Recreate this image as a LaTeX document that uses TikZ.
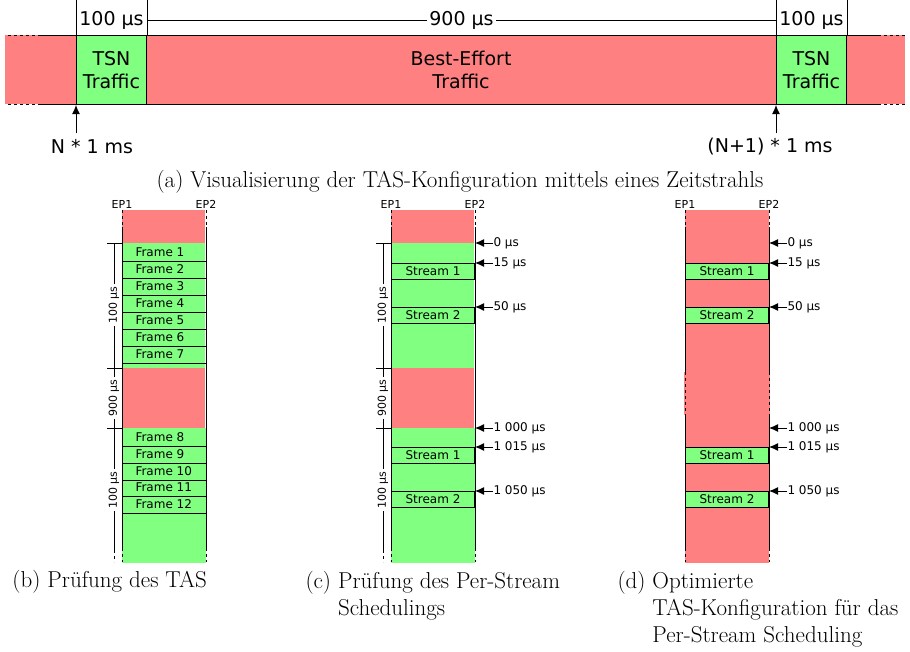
\documentclass[tikz,border=0pt]{standalone}
\usepackage{fontspec}
\newfontfamily\vsans{DejaVu Sans}
\usetikzlibrary{arrows.meta,calc}

\begin{document}
\begin{tikzpicture}[x=1pt,y=-1pt,line width=1pt,>={Latex[length=9pt,width=8pt]},
  every node/.style={inner sep=0,font=\vsans\fontsize{12}{14}\selectfont},
  bigtxt/.style={font=\vsans\fontsize{19}{23}\selectfont},
  smalltxt/.style={font=\vsans\fontsize{11}{13}\selectfont},
  subcap/.style={font=\fontsize{23}{27}\selectfont,anchor=west},
  gapline/.style={dash pattern=on 3pt off 3pt},
  framebox/.style={minimum width=83pt,minimum height=17pt,anchor=north west},
  streambox/.style={draw,fill=tsn,minimum width=83pt,minimum height=16pt,anchor=north west},
  colbox/.style={minimum width=83pt,minimum height=352pt,anchor=north west}]
\path[use as bounding box] (0,0) rectangle (910,651);
\definecolor{be}{HTML}{FF8080}
\definecolor{tsn}{HTML}{80FF80}

% (a) timeline
\fill[be] (5,35) rectangle (905,104);
\draw (38,35) -- (878,35) (38,104) -- (878,104);
\draw[gapline] (8,35) -- (38,35) (8,104) -- (38,104) (878,35) -- (905,35) (878,104) -- (905,104);
\node[draw,fill=tsn,minimum width=70pt,minimum height=69pt,anchor=north west,bigtxt,align=center] (tsn1) at (76,35) {TSN\\Traffic};
\node[draw,fill=tsn,minimum width=70pt,minimum height=69pt,anchor=north west,bigtxt,align=center] (tsn2) at (776,35) {TSN\\Traffic};
\node[bigtxt,align=center] (best) at (461,69.5) {Best-Effort\\Traffic};
\draw (tsn1.north west) -- ++(0,-35) (tsn1.north east) -- ++(0,-35)
      (tsn2.north west) -- ++(0,-35) (tsn2.north east) -- ++(0,-35);
\draw ($(tsn1.north east)+(0,-15)$) -- node[bigtxt,fill=white,inner xsep=2pt] (d900) {900 µs} ($(tsn2.north west)+(0,-15)$);
\node[bigtxt,fill=white] (d100a) at ($(tsn1.north)+(0,-15)$) {100 µs};
\node[bigtxt,fill=white] (d100b) at ($(tsn2.north)+(0,-15)$) {100 µs};
\node[bigtxt] (n0) at (92,147) {N * 1 ms};
\node[bigtxt] (n1) at (770,147) {(N+1) * 1 ms};
\coordinate (a0) at (76,133);
\coordinate (a1) at (776,133);
\draw[->] (a0) -- (tsn1.south west);
\draw[->] (a1) -- (tsn2.south west);
\node[font=\fontsize{23}{27}\selectfont] (capa) at (460,182) {(a) Visualisierung der TAS-Konfiguration mittels eines Zeitstrahls};

% columns (b), (c), (d)
\node[colbox] (colb) at (122,210) {};
\node[colbox] (colc) at (391,210) {};
\node[colbox] (cold) at (685,210) {};
\foreach \c in {colb,colc}{
  \fill[be] (\c.north west) rectangle ++(83,33);
  \fill[tsn] ($(\c.north west)+(0,33)$) rectangle ++(83,125);
  \fill[be] ($(\c.north west)+(0,158)$) rectangle ++(83,60);
  \fill[tsn] ($(\c.north west)+(0,218)$) rectangle (\c.south east);
}
\fill[be] (cold.north west) rectangle (cold.south east);
\foreach \c in {colb,colc,cold}{
  \node[smalltxt] (ep1\c) at ($(\c.north west)+(0,-6)$) {EP1};
  \node[smalltxt] (ep2\c) at ($(\c.north east)+(0,-6)$) {EP2};
  \foreach \a in {north west,north east}{
    \draw[gapline] (\c.\a) -- ++(0,17);
    \draw ($(\c.\a)+(0,17)$) -- ++(0,321);
    \draw[gapline] ($(\c.\a)+(0,338)$) -- ++(0,14);
  }
}
\foreach \a in {north west,north east}{\draw[be,line width=1.4pt] ($(cold.\a)+(0,162)$) -- ++(0,43); \draw[gapline] ($(cold.\a)+(0,162)$) -- ++(0,43);}

% scale bars
\foreach \c/\x in {colb/114,colc/383}{
  \draw (\x,243) -- (\x,550);
  \draw[gapline] (\x,550) -- (\x,562);
  \foreach \y in {243,368,428}{\draw (\x-7,\y) -- ($(\c.north west)+(0,\y-210)$);}
  \node[smalltxt,fill=white,rotate=90,inner xsep=2pt] (s1\c) at (\x,305) {100 µs};
  \node[smalltxt,fill=white,rotate=90,inner xsep=2pt] (s2\c) at (\x,398) {900 µs};
  \node[smalltxt,fill=white,rotate=90,inner xsep=2pt] (s3\c) at (\x,490) {100 µs};
}

% (b) frames
\foreach \i in {1,...,7}{
  \node[framebox] (f\i) at (122,243+17*\i-17) {};
  \node[anchor=west] (t\i) at ($(f\i.west)+(13,0)$) {Frame \i};
  \draw (f\i.south west) -- (f\i.south east);
}
\foreach \i/\y in {8/428,9/445,10/462,11/478,12/495}{
  \node[framebox] (f\i) at (122,\y) {};
  \node[anchor=west] (t\i) at ($(f\i.west)+(13,0)$) {Frame \i};
  \draw (f\i.south west) -- (f\i.south east);
}

% (c) and (d) streams with marks
\foreach \c/\x in {colc/391,cold/685}{
  \foreach \n/\y in {1/263,2/307,1/447,2/491}{
    \node[streambox] (st\c\y) at (\x,\y) {Stream \n};
  }
  \foreach \y/\t in {243/0 µs,263/15 µs,307/50 µs,428/1 000 µs,447/1 015 µs,491/1 050 µs}{
    \node[anchor=west] (m\c\y) at (\x+102,\y) {\t};
    \draw[->] (m\c\y.west) -- (m\c\y.west -| \c.east);
  }
}

% captions
\node[subcap] (capb) at (12,582) {(b) Prüfung des TAS};
\node[subcap,anchor=north west] (capc) at (305,569) {(c) \begin{tabular}[t]{@{}l@{}}Prüfung des Per-Stream\\Schedulings\end{tabular}};
\node[subcap,anchor=north west] (capd) at (617,569) {(d) \begin{tabular}[t]{@{}l@{}}Optimierte\\TAS-Konfiguration für das\\Per-Stream Scheduling\end{tabular}};
\end{tikzpicture}
\end{document}
